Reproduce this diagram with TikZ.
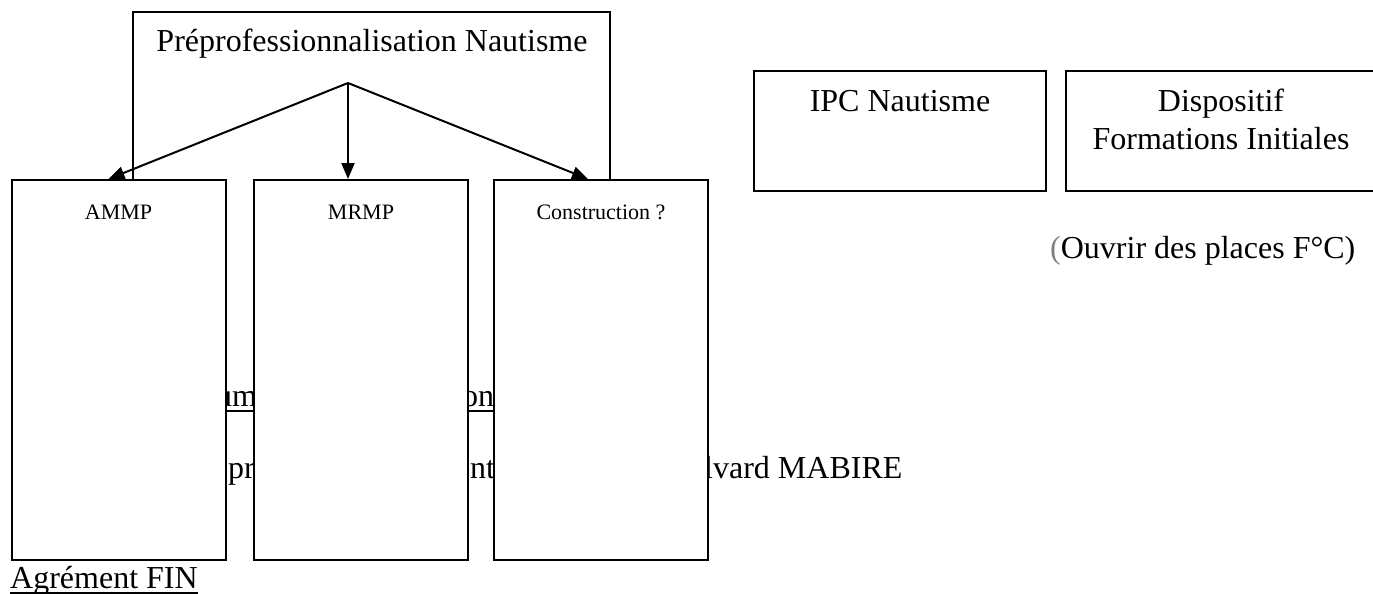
\documentclass[tikz,border=0pt]{standalone}
\usepackage{fontspec}
\setmainfont{Liberation Serif}
\usetikzlibrary{arrows.meta}

% underline at a fixed depth below the baseline
\newcommand{\ulfrag}[1]{\setbox0\hbox{#1}\rlap{\rule[-5.5pt]{\wd0}{1.6pt}}\box0}

\tikzstyle{column} = [
    rectangle,
    minimum width=214pt,
    minimum height=380pt,
    draw=black,
    line width=2pt,
    fill=white
]
\tikzstyle{smallbox} = [
    rectangle,
    minimum height=120pt,
    draw=black,
    line width=2pt
]
\tikzstyle{bigtext} = [font=\fontsize{32}{38}\selectfont, inner sep=0pt]
\tikzstyle{boxlabel} = [font=\fontsize{22}{26}\selectfont, inner sep=0pt, anchor=base]
\tikzstyle{arrow} = [line width=2pt, -{Triangle[length=16pt,width=13pt]}]

\begin{document}
\begin{tikzpicture}[x=1pt, y=-1pt]

\useasboundingbox (0,0) rectangle (1373,594);

% text lying under the columns
\node (um) [bigtext, anchor=base west] at (216,406) {\ulfrag{um}};
\node (on) [bigtext, anchor=base west] at (462,406) {\ulfrag{on}};
\node (pr) [bigtext, anchor=base west] at (228,478) {pr};
\node (nt) [bigtext, anchor=base west] at (470,478) {nt};
\node (mabire) [bigtext, anchor=base west] at (704,478) {lvard MABIRE};
\node (agrement) [bigtext, anchor=base west] at (10,588) {\ulfrag{Agrément FIN}};

% top frame
\node (preprof) [bigtext, anchor=base] at (372,52) {Préprofessionnalisation Nautisme};
\draw [line width=2pt] (133,180) |- (610,12) -- (610,180);

% columns
\node (ammp) [column] at (118.5,370) {};
\node (mrmp) [column] at (361,370) {};
\node (constr) [column] at (601,370) {};

\node (ammplbl) [boxlabel] at ([yshift=-40pt]ammp.north) {AMMP};
\node (mrmplbl) [boxlabel] at ([yshift=-40pt]mrmp.north) {MRMP};
\node (constrlbl) [boxlabel] at ([yshift=-40pt]constr.north) {Construction ?};

% right side
\node (ipc) [smallbox, minimum width=292pt] at (900,131) {};
\node (dispo) [smallbox, minimum width=308pt] at (1220,131) {};

\node (ipclbl) [bigtext, anchor=base] at (900,111) {IPC Nautisme};
\node (dispolbl) [bigtext, align=center, anchor=north] at (1221,89)
{Dispositif\\Formations Initiales};

\node (ouvrir) [bigtext, anchor=base west] at (1050,258)
{\textcolor{gray}{(}Ouvrir des places F°C)};

\coordinate (fork) at (348,83);

\draw [arrow] (fork) -- ([xshift=-10pt]ammp.north);
\draw [arrow] (fork) -- ([xshift=-13pt]mrmp.north);
\draw [arrow] (fork) -- ([xshift=-13pt]constr.north);

\end{tikzpicture}
\end{document}
